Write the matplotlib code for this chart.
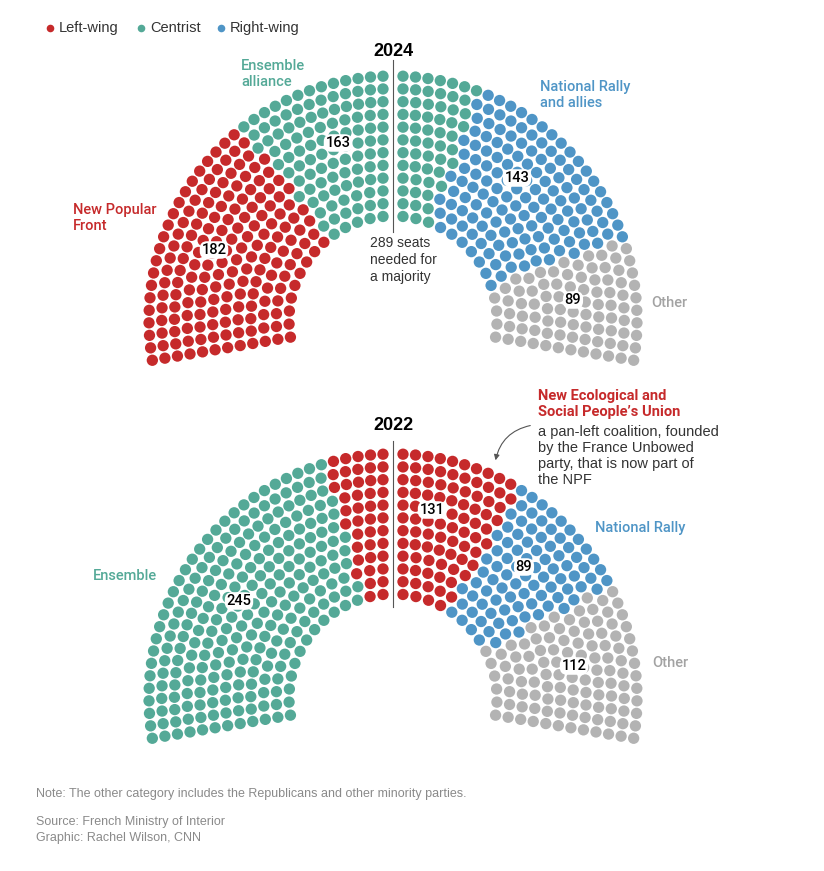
import numpy as np
import matplotlib.pyplot as plt
from matplotlib.patches import FancyArrowPatch

plt.rcParams['font.family'] = ['Liberation Sans', 'DejaVu Sans']

RED = '#c62a2b'
GREEN = '#54a997'
BLUE = '#4f95c6'
GRAY = '#b3b3b3'

# 2024 result, seats in order from left to right of the hemicycle
parties_2024 = ['New Popular\nFront', 'Ensemble\nalliance', 'National Rally\nand allies', 'Other']
seats_2024 = [182, 163, 143, 89]
colors_2024 = [RED, GREEN, BLUE, GRAY]

# 2022 result
parties_2022 = ['Ensemble', "New Ecological and\nSocial People\u2019s Union", 'National Rally', 'Other']
seats_2022 = [245, 131, 89, 112]
colors_2022 = [GREEN, RED, BLUE, GRAY]

legend_labels = ['Left-wing', 'Centrist', 'Right-wing']
legend_colors = [RED, GREEN, BLUE]

# hemicycle geometry (pixels)
N_ROWS = 12
R_IN, R_OUT = 104, 244
ANG_R = np.deg2rad(-9.5)
ANG_L = np.deg2rad(189.5)
HALF_GAP = 10
DOT = 11.3

LABEL_FONT = dict(family=['Roboto', 'Liberation Sans', 'DejaVu Sans'], fontweight='medium')


def seat_layout(total):
    radii = np.linspace(R_IN, R_OUT, N_ROWS)
    avail = radii * (ANG_L - ANG_R) - 2 * HALF_GAP
    raw = total * avail / avail.sum()
    n = np.floor(raw).astype(int)
    rem = total - n.sum()
    n[np.argsort(-(raw - n))[:rem]] += 1
    rr, aa = [], []
    for i, (r, k) in enumerate(zip(radii, n)):
        g = HALF_GAP / r
        nl = k // 2 if i % 2 == 0 else k - k // 2
        nr = k - nl
        a = np.concatenate([np.linspace(np.pi / 2 + g, ANG_L, nl),
                            np.linspace(ANG_R, np.pi / 2 - g, nr)])
        rr.append(np.full(k, r))
        aa.append(a)
    rr = np.concatenate(rr)
    aa = np.concatenate(aa)
    order = np.argsort(-aa, kind='stable')
    return rr[order], aa[order]


def draw_hemicycle(ax, cx, cy, seats, colors):
    r, a = seat_layout(sum(seats))
    cols = np.repeat(colors, seats)
    x = cx + r * np.cos(a)
    y = cy - r * np.sin(a)
    s = (DOT * 72 / 100) ** 2
    ax.scatter(x, y, s=s, c=cols, linewidths=0, zorder=2)


fig = plt.figure(figsize=(8.24, 8.71), dpi=100)
ax = fig.add_axes([0, 0, 1, 1])
ax.set_xlim(0, 824)
ax.set_ylim(871, 0)
ax.axis('off')

# legend
for lx, lab, col in zip([50, 141, 221], legend_labels, legend_colors):
    ax.scatter([lx], [28], s=30, c=col, linewidths=0)
    ax.text(lx + 9, 28, lab, fontsize=10.5, color='#333333', va='center', ha='left')

num_kw = dict(ha='center', va='center', fontsize=10.5, color='black', zorder=4,
              bbox=dict(boxstyle='round,pad=0.12,rounding_size=0.5', fc='white', ec='none'),
              **LABEL_FONT)

# ---- 2024 ----
cx, cy = 393, 320
draw_hemicycle(ax, cx, cy, seats_2024, colors_2024)
ax.text(cx, 51, '2024', ha='center', va='center', fontsize=13, fontweight='bold')
ax.plot([cx, cx], [60, 232], color='#555555', lw=0.8, zorder=1)
ax.text(370, 260, '289 seats\nneeded for\na majority', fontsize=10, color='#333333',
        va='center', ha='left', linespacing=1.25)
ax.text(73, 218, parties_2024[0], color=RED, fontsize=10.5, va='center', linespacing=1.2, **LABEL_FONT)
ax.text(241, 74, parties_2024[1], color=GREEN, fontsize=10.5, va='center', linespacing=1.2, **LABEL_FONT)
ax.text(540, 95, parties_2024[2], color=BLUE, fontsize=10.5, va='center', linespacing=1.2, **LABEL_FONT)
ax.text(651, 303, parties_2024[3], color='#a3a3a3', fontsize=10.5, va='center', **LABEL_FONT)
for (tx, ty), v in zip([(214, 250), (338, 143), (517, 178), (573, 300)], seats_2024):
    ax.text(tx, ty, str(v), **num_kw)

# ---- 2022 ----
cx, cy = 393, 698
draw_hemicycle(ax, cx, cy, seats_2022, colors_2022)
ax.text(cx, 425, '2022', ha='center', va='center', fontsize=13, fontweight='bold')
ax.plot([cx, cx], [441, 607], color='#555555', lw=0.8, zorder=1)
ax.text(93, 576, parties_2022[0], color=GREEN, fontsize=10.5, va='center', **LABEL_FONT)
ax.text(538, 404, parties_2022[1], color=RED, fontsize=10.5, va='center', linespacing=1.2,
        family=['Roboto', 'Liberation Sans', 'DejaVu Sans'], fontweight='bold')
ax.text(538, 456, 'a pan-left coalition, founded\nby the France Unbowed\nparty, that is now part of\nthe NPF',
        color='#333333', fontsize=10.5, va='center', linespacing=1.2)
ax.text(595, 528, parties_2022[2], color=BLUE, fontsize=10.5, va='center', **LABEL_FONT)
ax.text(652, 663, parties_2022[3], color='#a3a3a3', fontsize=10.5, va='center', **LABEL_FONT)
for (tx, ty), v in zip([(239, 601), (432, 510), (524, 567), (574, 666)], seats_2022):
    ax.text(tx, ty, str(v), **num_kw)

arrow = FancyArrowPatch((533, 425), (495, 463), connectionstyle='arc3,rad=0.35',
                        arrowstyle='-|>', mutation_scale=8, color='#555555', lw=0.8)
ax.add_patch(arrow)

# footer
ax.text(36, 794, 'Note: The other category includes the Republicans and other minority parties.',
        fontsize=9, color='#8a8a8a', va='center')
ax.text(36, 822, 'Source: French Ministry of Interior', fontsize=9, color='#8a8a8a', va='center')
ax.text(36, 838, 'Graphic: Rachel Wilson, CNN', fontsize=9, color='#8a8a8a', va='center')

fig.savefig('out.png', dpi=100, facecolor='white')
